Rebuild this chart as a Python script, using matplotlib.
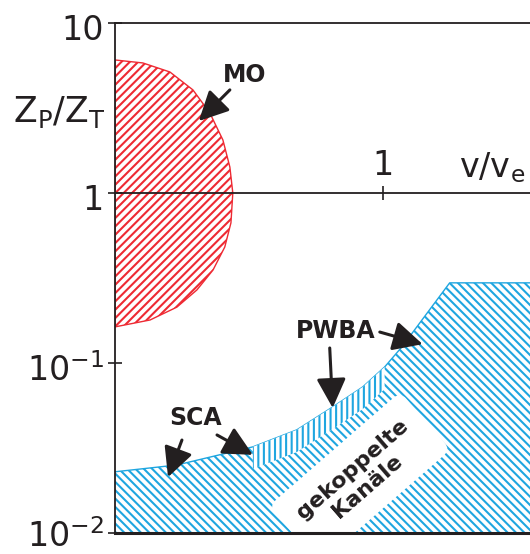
import numpy as np
import matplotlib.pyplot as plt
from matplotlib.ticker import NullLocator
from matplotlib.transforms import ScaledTranslation

plt.rcParams['hatch.linewidth'] = 1.5

# Grenze des MO-Bereichs (v/v_e, Z_P/Z_T)
mo_x = [0, 0.104, 0.205, 0.291, 0.354, 0.403, 0.429, 0.440,
        0.433, 0.410, 0.366, 0.306, 0.231, 0.131, 0]
mo_y = [6.06, 5.82, 5.15, 4.04, 2.96, 2.05, 1.42, 1.0,
        0.667, 0.481, 0.352, 0.269, 0.213, 0.179, 0.163]

# Obergrenze SCA / PWBA Bereich
sca_x = [0, 0.231, 0.515, 0.679, 0.813, 0.925, 1.007, 1.071, 1.250, 1.55]
sca_y = [0.0229, 0.0251, 0.0321, 0.0404, 0.0551, 0.0722, 0.0947, 0.124, 0.296, 0.296]

y_ticks = [1e-2, 1e-1, 1, 10]
y_labels = [r'$\mathregular{10^{-2}}$', r'$\mathregular{10^{-1}}$', '1', '10']
x_ticks = [1]
x_labels = ['1']

# Beschriftungen: Text, Position, Pfeile (Anfang, Spitze)
names = ['MO', 'PWBA', 'SCA']
name_pos = [(0.485, 4.94), (0.825, 0.154), (0.299, 0.0475)]
arrows = [
    [((0.429, 4.04), (0.313, 2.65))],
    [((0.989, 0.152), (1.149, 0.129)), ((0.802, 0.1225), (0.813, 0.0544))],
    [((0.25, 0.0352), (0.198, 0.0213)), ((0.381, 0.0377), (0.515, 0.0288))],
]

red = '#ee2a33'
blue = '#1fa6e0'
dark = '#231f20'

fig = plt.figure(figsize=(5.3, 5.54), dpi=100)
ax = fig.add_axes([0.217, 0.038, 0.783, 0.9205])
ax.set_yscale('log')
ax.set_xlim(0, 1.55)
ax.set_ylim(1e-2, 10)

# MO Bereich
ax.fill(mo_x, mo_y, facecolor='none', edgecolor=red, hatch='////', lw=1.0, zorder=1)

# SCA/PWBA Bereich
ax.fill_between(sca_x, sca_y, 1e-2, facecolor='none', edgecolor=blue,
                hatch='\\\\\\\\', lw=0, zorder=1)
ax.plot(sca_x, sca_y, color=blue, lw=1.0, zorder=2)
# steilere Schraffur am Rand
strip_x = sca_x[2:7]
strip_y = [v / 1.35 for v in sca_y[2:7]]
ax.fill_between(strip_x, sca_y[2:7], strip_y, facecolor='white', edgecolor=blue,
                hatch='|||', lw=0, zorder=2)

ax.text(0.914, 0.0211, 'gekoppelte\nKanäle', rotation=41, rotation_mode='anchor',
        ha='center', va='center', ma='center', fontsize=16, fontweight='bold', color=dark,
        linespacing=1.2, clip_on=True, zorder=3,
        bbox=dict(boxstyle='round,pad=0.75,rounding_size=0.4', fc='white', ec='none'))

# Achsen
ax.spines['right'].set_visible(False)
for s in ['left', 'top', 'bottom']:
    ax.spines[s].set_color(dark)
    ax.spines[s].set_linewidth(1.3)
ax.spines['bottom'].set_position(('data', 1))
ax.axhline(1e-2, color=dark, lw=2.2, clip_on=False, zorder=5)

ax.yaxis.set_minor_locator(NullLocator())
ax.set_yticks(y_ticks, y_labels)
ax.tick_params(axis='y', direction='inout', length=10, width=1.2, color=dark,
               labelsize=24, pad=3, labelcolor=dark)
for lab in ax.get_yticklabels()[1:]:
    lab.set_transform(lab.get_transform() + ScaledTranslation(0, -4 / 100, fig.dpi_scale_trans))
ax.set_xticks(x_ticks, [''] * len(x_ticks))
ax.tick_params(axis='x', direction='inout', length=10, width=1.2, color=dark)
for t, lab in zip(x_ticks, x_labels):
    ax.annotate(lab, (t, 1), xytext=(0, 8), textcoords='offset points',
                ha='center', va='bottom', fontsize=24, color=dark)

ax.text(0.83, 0.698, r'$\mathregular{v/v_e}$', transform=ax.transAxes,
        fontsize=24, color=dark, va='baseline')
fig.text(0.024, 0.78, r'$\mathregular{Z_P/Z_T}$', fontsize=25, color=dark, va='baseline')

for name, pos, arr in zip(names, name_pos, arrows):
    ax.text(pos[0], pos[1], name, ha='center', va='center', fontsize=17,
            fontweight='bold', color=dark, zorder=6)
    for tail, tip in arr:
        ax.annotate('', xy=tip, xytext=tail, zorder=6,
                    arrowprops=dict(arrowstyle='-|>,head_length=0.9,head_width=0.45',
                                    mutation_scale=20, lw=2.2, color=dark,
                                    shrinkA=0, shrinkB=0))

fig.savefig('out.png', dpi=100)
